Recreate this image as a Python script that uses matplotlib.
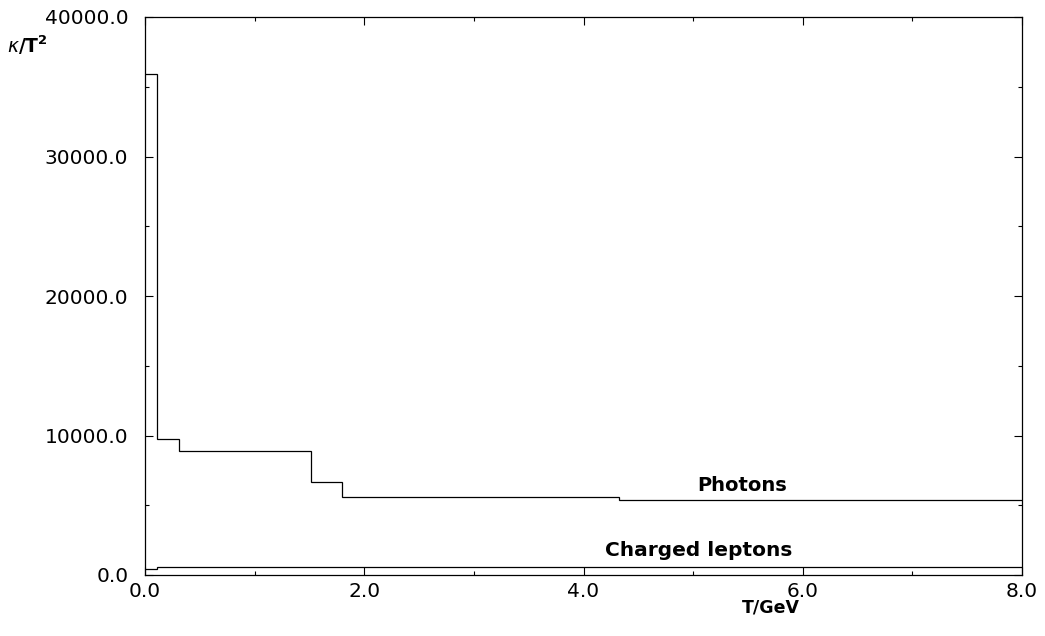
import matplotlib
matplotlib.use("Agg")
import matplotlib.pyplot as plt
from matplotlib.ticker import MultipleLocator, FormatStrFormatter

photon_edges = [0.0, 0.106, 0.306, 1.51, 1.80, 4.32, 8.0]
photon_values = [35900, 9750, 8910, 6670, 5610, 5370]
lepton_edges = [0.0, 0.106, 1.80, 8.0]
lepton_values = [430, 560, 600]

plt.rcParams['font.family'] = ['DejaVu Sans']

fig = plt.figure(figsize=(10.45, 6.36), dpi=100)
ax = fig.add_axes([145/1045, 61/636, 877/1045, 558/636])

ax.stairs(photon_values, photon_edges, baseline=None, color='black', lw=0.9)
ax.stairs(lepton_values, lepton_edges, baseline=None, color='black', lw=0.9)

ax.set_xlim(0, 8)
ax.set_ylim(0, 40000)
ax.xaxis.set_major_locator(MultipleLocator(2))
ax.xaxis.set_minor_locator(MultipleLocator(1))
ax.yaxis.set_major_locator(MultipleLocator(10000))
ax.yaxis.set_minor_locator(MultipleLocator(5000))
ax.xaxis.set_major_formatter(FormatStrFormatter('%.1f'))
ax.yaxis.set_major_formatter(FormatStrFormatter('%.1f'))
ax.tick_params(which='both', direction='in', top=True, right=True, width=0.8)
ax.tick_params(which='major', length=6, labelsize=14.5)
ax.tick_params(axis='x', which='major', pad=5)
ax.tick_params(axis='y', which='major', pad=12)
ax.tick_params(which='minor', length=3)
for s in ax.spines.values():
    s.set_linewidth(0.9)

ax.text(5.45, 6020, 'Photons', ha='center', va='baseline', fontsize=14, fontweight='bold')
ax.text(5.05, 1360, 'Charged leptons', ha='center', va='baseline', fontsize=14.5, fontweight='bold')

fig.text(771/1045, 1 - 607/636, 'T/GeV', ha='center', va='center', fontsize=12.5, fontweight='bold')
fig.text(7/1045, 1 - 45/636, r'$\kappa$/T$^\mathbf{2}$', ha='left', va='center', fontsize=13.5, fontweight='bold')

fig.savefig('out.png', dpi=100)
